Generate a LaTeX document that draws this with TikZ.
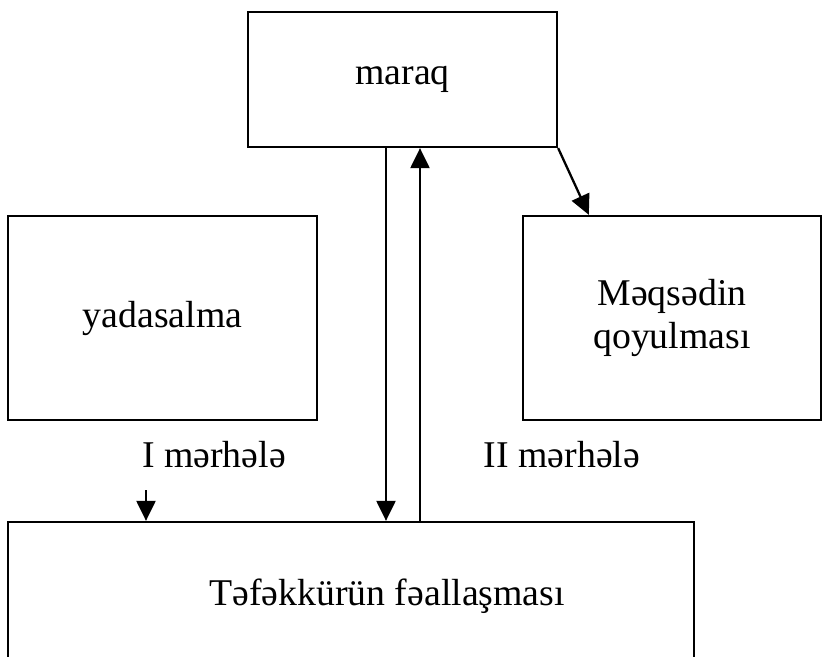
\documentclass[tikz,border=0pt]{standalone}
\usepackage{fontspec}
\setmainfont{Liberation Serif}
\usetikzlibrary{%
  arrows.meta,%
  positioning,% wg. " of "
  calc
}

\begin{document}
\begin{tikzpicture}
[draw=black, line width=1.3pt, >={Triangle[length=4mm,width=3.8mm]},
box/.style={rectangle, draw, inner sep=0pt, align=center,
  font=\fontsize{21.5}{24.4}\selectfont},
stage/.style={anchor=base, inner sep=0pt, font=\fontsize{21.5}{24.4}\selectfont}]

\useasboundingbox (0,0) rectangle (16.5,13.12);

\node[box, minimum width=6.18cm, minimum height=2.7cm] (maraq) at (8.05,11.53) {maraq};
\node[box, minimum width=6.18cm, minimum height=4.08cm] (yadasalma) at (3.25,6.76) {yadasalma};
\node[box, minimum width=5.96cm, minimum height=4.08cm] (meqsed) at (13.44,6.76) {M\char"0259qs\char"0259din\\qoyulmas\i};
\node[box, minimum width=13.72cm, minimum height=2.76cm] (tefekkur) at (7.02,1.30) {};
\node[stage] (tefekkurtext) at (7.74,1.02) {T\char"0259f\char"0259kk\"ur\"un f\char"0259alla\c{s}mas\i};

% merheleler
\node[stage] (merhele1) at (4.28,3.78) {I m\char"0259rh\char"0259l\char"0259};
\node[stage] (merhele2) at (11.24,3.78) {II m\char"0259rh\char"0259l\char"0259};
\coordinate (stage1) at (2.92,3.32);

\draw[->] ([xshift=-0.33cm]maraq.south) -- ([xshift=-0.33cm]maraq.south |- tefekkur.north);
\draw[->] ([xshift=0.35cm]maraq.south |- tefekkur.north) -- ([xshift=0.35cm]maraq.south);
\draw[->] (maraq.south east) -- ([xshift=1.34cm]meqsed.north west);
\draw[->] (stage1) -- (stage1 |- tefekkur.north);
\end{tikzpicture}
\end{document}
